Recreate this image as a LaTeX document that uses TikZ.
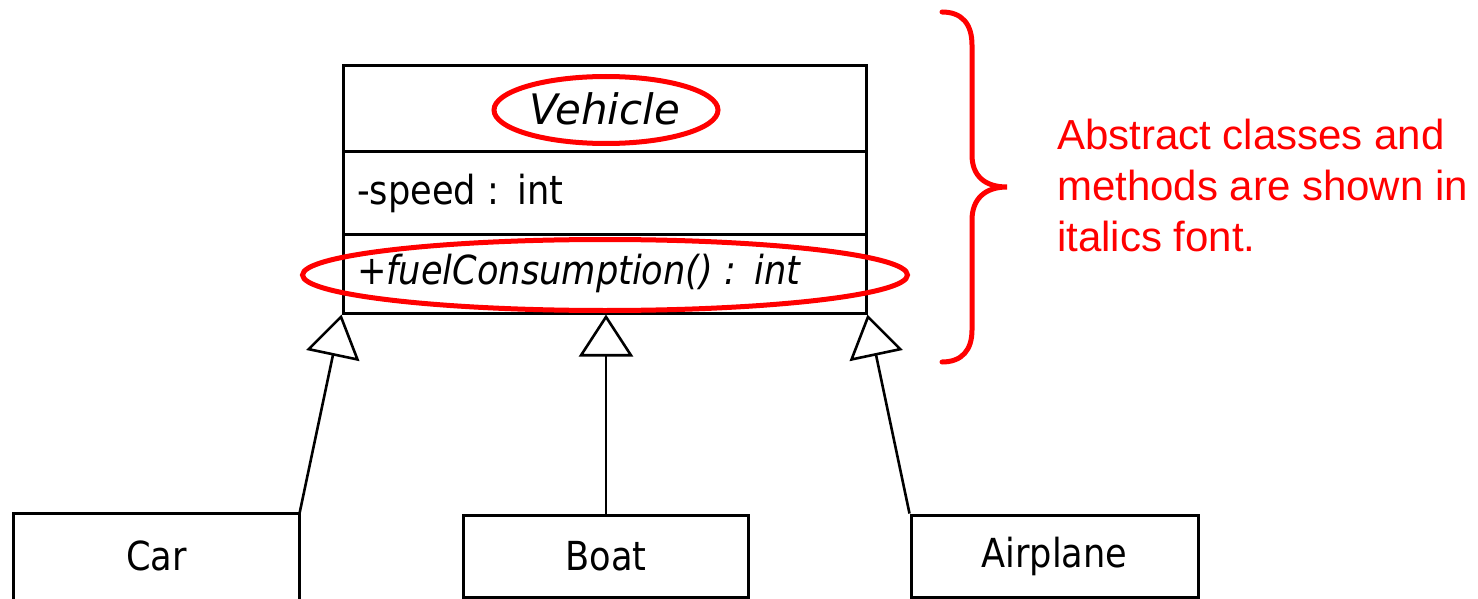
\documentclass[tikz,border=0pt]{standalone}
\usepackage{fontspec}
\setmainfont{DejaVu Sans}
\newfontfamily\notefont{Liberation Sans}
\usetikzlibrary{arrows.meta,shapes.geometric,calc}
\tikzset{
  umlbox/.style={draw=black, line width=3pt, fill=white, inner sep=0pt, minimum width=523pt},
  umlfont/.style={font=\fontsize{40}{46}\selectfont},
  classbox/.style={draw=black, line width=3pt, fill=white, inner sep=0pt, minimum width=285pt, minimum height=82pt, umlfont},
  gen/.style={line width=2.6pt, -{Triangle[open, length=42pt, width=54pt, fill=white]}},
  redmark/.style={draw=red, line width=5pt, ellipse, inner sep=0pt},
  note/.style={text=red, font=\notefont\fontsize{42}{51}\selectfont, align=left, inner sep=0pt, anchor=north west}
}
\newcommand{\nx}[1]{\scalebox{0.88}[1]{#1}}
\begin{document}
\begin{tikzpicture}[x=1pt,y=-1pt]
\useasboundingbox (0,0) rectangle (1478,599);
% Vehicle class
\node[umlbox, font=\fontsize{42}{48}\selectfont, minimum height=86pt] (vname) at (604.5,109) {\scalebox{1.0}[1]{\itshape Vehicle}};
\node[umlbox, umlfont, minimum height=82pt, text width=495pt, inner xsep=14pt, align=left] (vattr) at (604.5,193) {\nx{-speed : int}};
\node[umlbox, umlfont, minimum height=79pt, text width=495pt, inner xsep=14pt, align=left] (vop) at (604.5,273.5) {\nx{\itshape +fuelConsumption() : int}};
% subclasses
\node[classbox, draw=none, minimum width=283pt] (car) at (156.5,556) {\nx{Car}};
\draw[line width=3pt] ($(car.south west)+(0,30)$) -- (car.north west) -- (car.north east) -- ($(car.south east)+(0,30)$);
\node[classbox] (boat) at (606,556) {\nx{Boat}};
\node[classbox, minimum width=287pt] (airplane) at (1054.5,556) {\nx{Airplane}};
% generalizations
\draw[gen] (car.north east) -- (vop.south west);
\draw[gen] (boat.north) -- (boat.north |- vop.south);
\draw[gen] (airplane.north west) -- (vop.south east);
% red annotations
\node[redmark, minimum width=224pt, minimum height=67pt] (e1) at (606,110) {};
\node[redmark, minimum width=605pt, minimum height=71pt] (e2) at (605,275) {};
\draw[red, line width=5pt, line cap=round]
  (942,12) .. controls (962,12) and (972,24) .. (972,45) -- (972,155)
  .. controls (972,176) and (985,187) .. (1007,187)
  .. controls (985,187) and (972,199) .. (972,220) -- (972,330)
  .. controls (972,350) and (962,362) .. (942,362);
\node[note] (txt) at (1057,119) {Abstract classes and\\methods are shown in\\italics font.};
\end{tikzpicture}
\end{document}
